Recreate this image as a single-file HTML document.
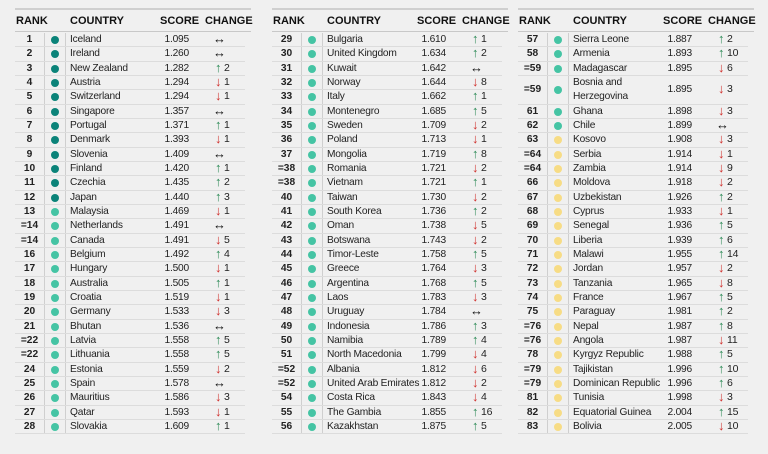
<!DOCTYPE html><html><head><meta charset="utf-8"><style>
body{margin:0;width:768px;height:454px;background:#f0f0f0;font-family:"Liberation Sans",sans-serif;position:relative;overflow:hidden;color:#222}
.t{position:absolute;top:8px;width:234px}
.top{position:absolute;left:0;top:0;width:236px;border-top:2px solid #cfcfcf}
.h{position:absolute;top:7px;font-weight:bold;font-size:11px;color:#111}
.hl{position:absolute;left:0;top:23px;width:236px;border-top:1.5px solid #c8c8c8}
.rows{position:absolute;left:0;top:25px;width:230px}
.r{position:relative;height:14.33px;border-bottom:1px solid #dcdcdc;box-sizing:border-box;font-size:10.2px;line-height:14px;letter-spacing:-0.2px}
.r.dbl{height:28.66px}
.r b{position:absolute;left:0;width:29px;text-align:center;font-weight:bold;top:0;letter-spacing:0}
.r .d{position:absolute;left:36px;top:3px;width:8px;height:8px;border-radius:50%;background:#45c4a4}
.r.dbl .d{top:10px}
.r .d.k{background:#0b8379}.r .d.y{background:#f7dc85}
.r .c{position:absolute;left:55px;top:0;white-space:nowrap}
.r .s{position:absolute;right:56px;top:0}
.r .g{position:absolute;left:200px;top:-1px;white-space:nowrap;line-height:14px;font-size:10.5px;padding-left:9px;height:14px}
.r.dbl b,.r.dbl .s{top:7px}
.r.dbl .g{top:6px}
.u,.dn,.n{position:absolute;left:0;top:0;line-height:14px;font-size:13px;font-weight:bold}
.n{left:-2px}
.u{color:#2e8b57}.dn{color:#d0312d}.n{color:#111}
.v{position:absolute;top:25px;height:401px;border-left:1px solid #cfcfcf}
</style></head><body>

<div class="t" style="left:15px">
<div class="top"></div>
<div class="h" style="left:1px">RANK</div><div class="h" style="left:55px">COUNTRY</div><div class="h" style="left:145px">SCORE</div><div class="h" style="left:190px">CHANGE</div>
<div class="hl"></div>
<div class="v" style="left:29px"></div><div class="v" style="left:50px"></div>
<div class="rows">
<div class="r"><b>1</b><i class="d k"></i><span class="c">Iceland</span><span class="s">1.095</span><span class="g"><span class="n">↔</span></span></div>
<div class="r"><b>2</b><i class="d k"></i><span class="c">Ireland</span><span class="s">1.260</span><span class="g"><span class="n">↔</span></span></div>
<div class="r"><b>3</b><i class="d k"></i><span class="c">New Zealand</span><span class="s">1.282</span><span class="g"><span class="u">↑</span> 2</span></div>
<div class="r"><b>4</b><i class="d k"></i><span class="c">Austria</span><span class="s">1.294</span><span class="g"><span class="dn">↓</span> 1</span></div>
<div class="r"><b>5</b><i class="d k"></i><span class="c">Switzerland</span><span class="s">1.294</span><span class="g"><span class="dn">↓</span> 1</span></div>
<div class="r"><b>6</b><i class="d k"></i><span class="c">Singapore</span><span class="s">1.357</span><span class="g"><span class="n">↔</span></span></div>
<div class="r"><b>7</b><i class="d k"></i><span class="c">Portugal</span><span class="s">1.371</span><span class="g"><span class="u">↑</span> 1</span></div>
<div class="r"><b>8</b><i class="d k"></i><span class="c">Denmark</span><span class="s">1.393</span><span class="g"><span class="dn">↓</span> 1</span></div>
<div class="r"><b>9</b><i class="d k"></i><span class="c">Slovenia</span><span class="s">1.409</span><span class="g"><span class="n">↔</span></span></div>
<div class="r"><b>10</b><i class="d k"></i><span class="c">Finland</span><span class="s">1.420</span><span class="g"><span class="u">↑</span> 1</span></div>
<div class="r"><b>11</b><i class="d k"></i><span class="c">Czechia</span><span class="s">1.435</span><span class="g"><span class="u">↑</span> 2</span></div>
<div class="r"><b>12</b><i class="d k"></i><span class="c">Japan</span><span class="s">1.440</span><span class="g"><span class="u">↑</span> 3</span></div>
<div class="r"><b>13</b><i class="d"></i><span class="c">Malaysia</span><span class="s">1.469</span><span class="g"><span class="dn">↓</span> 1</span></div>
<div class="r"><b>=14</b><i class="d"></i><span class="c">Netherlands</span><span class="s">1.491</span><span class="g"><span class="n">↔</span></span></div>
<div class="r"><b>=14</b><i class="d"></i><span class="c">Canada</span><span class="s">1.491</span><span class="g"><span class="dn">↓</span> 5</span></div>
<div class="r"><b>16</b><i class="d"></i><span class="c">Belgium</span><span class="s">1.492</span><span class="g"><span class="u">↑</span> 4</span></div>
<div class="r"><b>17</b><i class="d"></i><span class="c">Hungary</span><span class="s">1.500</span><span class="g"><span class="dn">↓</span> 1</span></div>
<div class="r"><b>18</b><i class="d"></i><span class="c">Australia</span><span class="s">1.505</span><span class="g"><span class="u">↑</span> 1</span></div>
<div class="r"><b>19</b><i class="d"></i><span class="c">Croatia</span><span class="s">1.519</span><span class="g"><span class="dn">↓</span> 1</span></div>
<div class="r"><b>20</b><i class="d"></i><span class="c">Germany</span><span class="s">1.533</span><span class="g"><span class="dn">↓</span> 3</span></div>
<div class="r"><b>21</b><i class="d"></i><span class="c">Bhutan</span><span class="s">1.536</span><span class="g"><span class="n">↔</span></span></div>
<div class="r"><b>=22</b><i class="d"></i><span class="c">Latvia</span><span class="s">1.558</span><span class="g"><span class="u">↑</span> 5</span></div>
<div class="r"><b>=22</b><i class="d"></i><span class="c">Lithuania</span><span class="s">1.558</span><span class="g"><span class="u">↑</span> 5</span></div>
<div class="r"><b>24</b><i class="d"></i><span class="c">Estonia</span><span class="s">1.559</span><span class="g"><span class="dn">↓</span> 2</span></div>
<div class="r"><b>25</b><i class="d"></i><span class="c">Spain</span><span class="s">1.578</span><span class="g"><span class="n">↔</span></span></div>
<div class="r"><b>26</b><i class="d"></i><span class="c">Mauritius</span><span class="s">1.586</span><span class="g"><span class="dn">↓</span> 3</span></div>
<div class="r"><b>27</b><i class="d"></i><span class="c">Qatar</span><span class="s">1.593</span><span class="g"><span class="dn">↓</span> 1</span></div>
<div class="r"><b>28</b><i class="d"></i><span class="c">Slovakia</span><span class="s">1.609</span><span class="g"><span class="u">↑</span> 1</span></div>
</div></div>

<div class="t" style="left:272px">
<div class="top"></div>
<div class="h" style="left:1px">RANK</div><div class="h" style="left:55px">COUNTRY</div><div class="h" style="left:145px">SCORE</div><div class="h" style="left:190px">CHANGE</div>
<div class="hl"></div>
<div class="v" style="left:29px"></div><div class="v" style="left:50px"></div>
<div class="rows">
<div class="r"><b>29</b><i class="d"></i><span class="c">Bulgaria</span><span class="s">1.610</span><span class="g"><span class="u">↑</span> 1</span></div>
<div class="r"><b>30</b><i class="d"></i><span class="c">United Kingdom</span><span class="s">1.634</span><span class="g"><span class="u">↑</span> 2</span></div>
<div class="r"><b>31</b><i class="d"></i><span class="c">Kuwait</span><span class="s">1.642</span><span class="g"><span class="n">↔</span></span></div>
<div class="r"><b>32</b><i class="d"></i><span class="c">Norway</span><span class="s">1.644</span><span class="g"><span class="dn">↓</span> 8</span></div>
<div class="r"><b>33</b><i class="d"></i><span class="c">Italy</span><span class="s">1.662</span><span class="g"><span class="u">↑</span> 1</span></div>
<div class="r"><b>34</b><i class="d"></i><span class="c">Montenegro</span><span class="s">1.685</span><span class="g"><span class="u">↑</span> 5</span></div>
<div class="r"><b>35</b><i class="d"></i><span class="c">Sweden</span><span class="s">1.709</span><span class="g"><span class="dn">↓</span> 2</span></div>
<div class="r"><b>36</b><i class="d"></i><span class="c">Poland</span><span class="s">1.713</span><span class="g"><span class="dn">↓</span> 1</span></div>
<div class="r"><b>37</b><i class="d"></i><span class="c">Mongolia</span><span class="s">1.719</span><span class="g"><span class="u">↑</span> 8</span></div>
<div class="r"><b>=38</b><i class="d"></i><span class="c">Romania</span><span class="s">1.721</span><span class="g"><span class="dn">↓</span> 2</span></div>
<div class="r"><b>=38</b><i class="d"></i><span class="c">Vietnam</span><span class="s">1.721</span><span class="g"><span class="u">↑</span> 1</span></div>
<div class="r"><b>40</b><i class="d"></i><span class="c">Taiwan</span><span class="s">1.730</span><span class="g"><span class="dn">↓</span> 2</span></div>
<div class="r"><b>41</b><i class="d"></i><span class="c">South Korea</span><span class="s">1.736</span><span class="g"><span class="u">↑</span> 2</span></div>
<div class="r"><b>42</b><i class="d"></i><span class="c">Oman</span><span class="s">1.738</span><span class="g"><span class="dn">↓</span> 5</span></div>
<div class="r"><b>43</b><i class="d"></i><span class="c">Botswana</span><span class="s">1.743</span><span class="g"><span class="dn">↓</span> 2</span></div>
<div class="r"><b>44</b><i class="d"></i><span class="c">Timor-Leste</span><span class="s">1.758</span><span class="g"><span class="u">↑</span> 5</span></div>
<div class="r"><b>45</b><i class="d"></i><span class="c">Greece</span><span class="s">1.764</span><span class="g"><span class="dn">↓</span> 3</span></div>
<div class="r"><b>46</b><i class="d"></i><span class="c">Argentina</span><span class="s">1.768</span><span class="g"><span class="u">↑</span> 5</span></div>
<div class="r"><b>47</b><i class="d"></i><span class="c">Laos</span><span class="s">1.783</span><span class="g"><span class="dn">↓</span> 3</span></div>
<div class="r"><b>48</b><i class="d"></i><span class="c">Uruguay</span><span class="s">1.784</span><span class="g"><span class="n">↔</span></span></div>
<div class="r"><b>49</b><i class="d"></i><span class="c">Indonesia</span><span class="s">1.786</span><span class="g"><span class="u">↑</span> 3</span></div>
<div class="r"><b>50</b><i class="d"></i><span class="c">Namibia</span><span class="s">1.789</span><span class="g"><span class="u">↑</span> 4</span></div>
<div class="r"><b>51</b><i class="d"></i><span class="c">North Macedonia</span><span class="s">1.799</span><span class="g"><span class="dn">↓</span> 4</span></div>
<div class="r"><b>=52</b><i class="d"></i><span class="c">Albania</span><span class="s">1.812</span><span class="g"><span class="dn">↓</span> 6</span></div>
<div class="r"><b>=52</b><i class="d"></i><span class="c">United Arab Emirates</span><span class="s">1.812</span><span class="g"><span class="dn">↓</span> 2</span></div>
<div class="r"><b>54</b><i class="d"></i><span class="c">Costa Rica</span><span class="s">1.843</span><span class="g"><span class="dn">↓</span> 4</span></div>
<div class="r"><b>55</b><i class="d"></i><span class="c">The Gambia</span><span class="s">1.855</span><span class="g"><span class="u">↑</span> 16</span></div>
<div class="r"><b>56</b><i class="d"></i><span class="c">Kazakhstan</span><span class="s">1.875</span><span class="g"><span class="u">↑</span> 5</span></div>
</div></div>

<div class="t" style="left:518px">
<div class="top"></div>
<div class="h" style="left:1px">RANK</div><div class="h" style="left:55px">COUNTRY</div><div class="h" style="left:145px">SCORE</div><div class="h" style="left:190px">CHANGE</div>
<div class="hl"></div>
<div class="v" style="left:29px"></div><div class="v" style="left:50px"></div>
<div class="rows">
<div class="r"><b>57</b><i class="d"></i><span class="c">Sierra Leone</span><span class="s">1.887</span><span class="g"><span class="u">↑</span> 2</span></div>
<div class="r"><b>58</b><i class="d"></i><span class="c">Armenia</span><span class="s">1.893</span><span class="g"><span class="u">↑</span> 10</span></div>
<div class="r"><b>=59</b><i class="d"></i><span class="c">Madagascar</span><span class="s">1.895</span><span class="g"><span class="dn">↓</span> 6</span></div>
<div class="r dbl"><b>=59</b><i class="d"></i><span class="c">Bosnia and<br>Herzegovina</span><span class="s">1.895</span><span class="g"><span class="dn">↓</span> 3</span></div>
<div class="r"><b>61</b><i class="d"></i><span class="c">Ghana</span><span class="s">1.898</span><span class="g"><span class="dn">↓</span> 3</span></div>
<div class="r"><b>62</b><i class="d"></i><span class="c">Chile</span><span class="s">1.899</span><span class="g"><span class="n">↔</span></span></div>
<div class="r"><b>63</b><i class="d y"></i><span class="c">Kosovo</span><span class="s">1.908</span><span class="g"><span class="dn">↓</span> 3</span></div>
<div class="r"><b>=64</b><i class="d y"></i><span class="c">Serbia</span><span class="s">1.914</span><span class="g"><span class="dn">↓</span> 1</span></div>
<div class="r"><b>=64</b><i class="d y"></i><span class="c">Zambia</span><span class="s">1.914</span><span class="g"><span class="dn">↓</span> 9</span></div>
<div class="r"><b>66</b><i class="d y"></i><span class="c">Moldova</span><span class="s">1.918</span><span class="g"><span class="dn">↓</span> 2</span></div>
<div class="r"><b>67</b><i class="d y"></i><span class="c">Uzbekistan</span><span class="s">1.926</span><span class="g"><span class="u">↑</span> 2</span></div>
<div class="r"><b>68</b><i class="d y"></i><span class="c">Cyprus</span><span class="s">1.933</span><span class="g"><span class="dn">↓</span> 1</span></div>
<div class="r"><b>69</b><i class="d y"></i><span class="c">Senegal</span><span class="s">1.936</span><span class="g"><span class="u">↑</span> 5</span></div>
<div class="r"><b>70</b><i class="d y"></i><span class="c">Liberia</span><span class="s">1.939</span><span class="g"><span class="u">↑</span> 6</span></div>
<div class="r"><b>71</b><i class="d y"></i><span class="c">Malawi</span><span class="s">1.955</span><span class="g"><span class="u">↑</span> 14</span></div>
<div class="r"><b>72</b><i class="d y"></i><span class="c">Jordan</span><span class="s">1.957</span><span class="g"><span class="dn">↓</span> 2</span></div>
<div class="r"><b>73</b><i class="d y"></i><span class="c">Tanzania</span><span class="s">1.965</span><span class="g"><span class="dn">↓</span> 8</span></div>
<div class="r"><b>74</b><i class="d y"></i><span class="c">France</span><span class="s">1.967</span><span class="g"><span class="u">↑</span> 5</span></div>
<div class="r"><b>75</b><i class="d y"></i><span class="c">Paraguay</span><span class="s">1.981</span><span class="g"><span class="u">↑</span> 2</span></div>
<div class="r"><b>=76</b><i class="d y"></i><span class="c">Nepal</span><span class="s">1.987</span><span class="g"><span class="u">↑</span> 8</span></div>
<div class="r"><b>=76</b><i class="d y"></i><span class="c">Angola</span><span class="s">1.987</span><span class="g"><span class="dn">↓</span> 11</span></div>
<div class="r"><b>78</b><i class="d y"></i><span class="c">Kyrgyz Republic</span><span class="s">1.988</span><span class="g"><span class="u">↑</span> 5</span></div>
<div class="r"><b>=79</b><i class="d y"></i><span class="c">Tajikistan</span><span class="s">1.996</span><span class="g"><span class="u">↑</span> 10</span></div>
<div class="r"><b>=79</b><i class="d y"></i><span class="c">Dominican Republic</span><span class="s">1.996</span><span class="g"><span class="u">↑</span> 6</span></div>
<div class="r"><b>81</b><i class="d y"></i><span class="c">Tunisia</span><span class="s">1.998</span><span class="g"><span class="dn">↓</span> 3</span></div>
<div class="r"><b>82</b><i class="d y"></i><span class="c">Equatorial Guinea</span><span class="s">2.004</span><span class="g"><span class="u">↑</span> 15</span></div>
<div class="r"><b>83</b><i class="d y"></i><span class="c">Bolivia</span><span class="s">2.005</span><span class="g"><span class="dn">↓</span> 10</span></div>
</div></div>
</body></html>
